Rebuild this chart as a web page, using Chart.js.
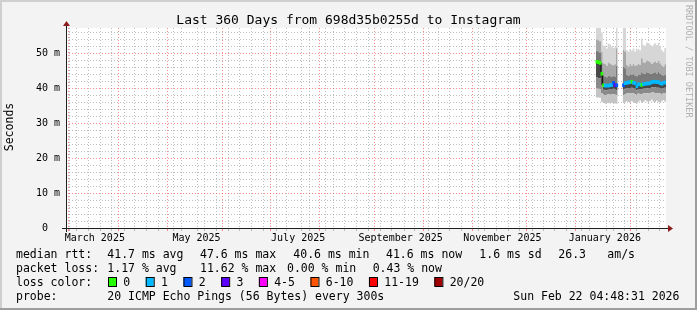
<!DOCTYPE html>
<html>
<head>
<meta charset="utf-8">
<script src="https://cdn.jsdelivr.net/npm/chart.js@4.4.1/dist/chart.umd.min.js"></script>
<style>
  html, body { margin: 0; padding: 0; background: #f3f3f3; }
  canvas { display: block; }
</style>
</head>
<body>
<canvas id="smoke" width="697" height="310"></canvas>
<script>
// 360 day window ending at the graph timestamp
const DAY = 86400000;
const END = Date.UTC(2026, 1, 22, 4, 48, 31);
const START = END - 360 * DAY;
const toDay = t => (t - START) / DAY;

const title = 'Last 360 Days from 698d35b0255d to Instagram';
const xLabels = ['March 2025', 'May 2025', 'July 2025', 'September 2025', 'November 2025', 'January 2026'];
const xLabelMonths = [[2025, 2], [2025, 4], [2025, 6], [2025, 8], [2025, 10], [2026, 0]];
const yTickValues = [0, 10, 20, 30, 40, 50];
const yTickLabels = ['0  ', '10 m', '20 m', '30 m', '40 m', '50 m'];

// one value per day, starting at day 318 of the window (ms)
const firstBin = 318;
const median = [47.6, 47.5, 47.3, 44.2, 40.9, 40.8, 40.8, 40.8, 40.9, 41.0, 41.6, 40.9, 40.9, null, null, null,
  40.9, 41.5, 41.6, 41.7, 41.8, 41.9, 41.6, 41.5, 40.6, 41.2, 41.1, 41.0, 41.2, 41.3, 41.4, 41.4, 41.5, 41.8, 41.9, 41.9, 41.8, 41.8, 41.5, 41.3, 41.6, 41.7];
const lostPings = [0, 0, 0, 0, 0, 1, 1, 1, 1, 1, 2, 3, 2, null, null, null,
  2, 1, 1, 1, 1, 0, 1, 1, 1, 1, 1, 0, 1, 1, 1, 1, 1, 1, 1, 1, 1, 1, 1, 1, 1, 1];
const smokeMax = [58, 58, 58, 56, 52.3, 52.2, 51.4, 52.8, 52.6, 51.9, 51.6, 51.8, 58, null, null, null,
  58, 58, 51.0, 50.5, 51.2, 50.8, 51.4, 50.6, 51.0, 51.3, 50.9, 54.2, 52.4, 52.2, 53.1, 53.0, 52.6, 51.9, 52.5, 52.9, 52.4, 53.1, 52.2, 51.0, 50.4, 51.6];
const smokeP90 = [54.0, 53.8, 53.5, 50.5, 47.2, 47.0, 46.5, 47.4, 47.1, 46.8, 46.6, 46.9, 51.5, null, null, null,
  51.0, 50.6, 46.8, 46.3, 46.9, 46.5, 47.0, 46.4, 46.6, 47.0, 46.7, 48.6, 47.5, 47.3, 48.0, 47.8, 47.5, 47.0, 47.4, 47.7, 47.3, 47.9, 47.2, 46.6, 46.2, 46.9];
const smokeP75 = [50.8, 50.6, 50.3, 47.0, 43.6, 43.4, 43.2, 43.7, 43.5, 43.3, 43.6, 43.4, 46.5, null, null, null,
  46.2, 45.8, 43.8, 43.6, 44.0, 43.8, 44.1, 43.7, 43.5, 43.9, 43.8, 44.6, 44.3, 44.2, 44.6, 44.5, 44.3, 44.2, 44.4, 44.6, 44.3, 44.7, 44.2, 43.9, 43.7, 44.0];
const smokeP25 = [43.2, 43.0, 42.8, 40.8, 39.6, 39.5, 39.5, 39.6, 39.7, 39.6, 39.9, 39.6, 39.5, null, null, null,
  39.6, 39.9, 40.0, 40.1, 40.1, 40.2, 40.0, 39.9, 39.5, 39.8, 39.8, 39.7, 39.9, 40.0, 40.0, 40.1, 40.1, 40.3, 40.4, 40.3, 40.2, 40.2, 40.0, 39.9, 40.1, 40.2];
const smokeP10 = [40.0, 39.9, 39.8, 38.6, 38.2, 38.1, 38.2, 38.3, 38.2, 38.3, 38.4, 38.2, 38.0, null, null, null,
  38.1, 38.3, 38.5, 38.6, 38.5, 38.7, 38.5, 38.4, 38.2, 38.5, 38.4, 38.3, 38.5, 38.6, 38.6, 38.7, 38.6, 38.8, 38.8, 38.7, 38.6, 38.7, 38.5, 38.4, 38.6, 38.7];
const smokeMin = [37.4, 37.4, 37.3, 36.2, 35.8, 35.7, 35.9, 35.8, 35.7, 35.9, 35.8, 35.7, 35.6, null, null, null,
  35.8, 36.0, 36.3, 36.1, 35.9, 36.4, 36.0, 35.8, 35.7, 36.2, 36.5, 35.9, 36.1, 36.6, 36.3, 35.9, 36.4, 36.8, 36.2, 36.0, 36.5, 36.1, 35.9, 36.3, 36.7, 36.2];

const lossLabels = ['0', '1', '2', '3', '4-5', '6-10', '11-19', '20/20'];
const lossUpper = [0, 1, 2, 3, 5, 10, 19, 20];
const lossColors = ['#26ff00', '#00b8ff', '#0059ff', '#5e00ff', '#ff00ff', '#ff5500', '#ff0000', '#a10000'];

const legendRows = [
  [['median rtt:', 16], ['41.7 ms avg', 107.3], ['47.6 ms max', 200], ['40.6 ms min', 293.3], ['41.6 ms now', 386], ['1.6 ms sd', 479.3], ['26.3', 558.3], ['am/s', 607.3]],
  [['packet loss:', 16], ['1.17 % avg', 107.3], ['11.62 % max', 200], ['0.00 % min', 287], ['0.43 % now', 372.7]],
  [['loss color:', 16]],
  [['probe:', 16], ['20 ICMP Echo Pings (56 Bytes) every 300s', 107.3], ['Sun Feb 22 04:48:31 2026', 513.3]]
];

const MONO = '"DejaVu Sans Mono", monospace';
const minorGrid = 'rgba(128,128,128,0.5)';
const majorGrid = 'rgba(255,0,0,0.45)';

// x ticks: sundays (minor), month starts (major), mid-month labels
const xTicks = [];
for (let t = Date.UTC(2025, 2, 2); toDay(t) < 360; t += 7 * DAY) xTicks.push({ value: toDay(t), kind: 'week' });
for (let m = 2; m <= 13; m++) xTicks.push({ value: toDay(Date.UTC(2025, m, 1)), kind: 'month' });
xLabelMonths.forEach(([y, m], i) => {
  const mid = (toDay(Date.UTC(y, m, 1)) + toDay(Date.UTC(y, m + 1, 1))) / 2;
  xTicks.push({ value: mid, kind: 'label', text: xLabels[i] });
});
xTicks.sort((a, b) => a.value - b.value);

function gridX(tick) {
  if (!tick || tick.kind === 'label') return 'rgba(0,0,0,0)';
  return tick.kind === 'month' ? majorGrid : minorGrid;
}

// daily bins as step lines, each run closed at the end of its last day
function steps(vals) {
  const pts = [];
  vals.forEach((v, i) => {
    const d = firstBin + i;
    if (v === null) { pts.push({ x: d, y: null }); return; }
    pts.push({ x: d, y: v });
    const next = vals[i + 1];
    if (next === undefined || next === null) pts.push({ x: d + 1, y: v });
  });
  return pts;
}

const bands = [
  [smokeMin, null],
  [smokeP10, '#c4c4c4'],
  [smokeP25, '#8a8a8a'],
  [median, '#484848'],
  [smokeP75, '#7a7a7a'],
  [smokeP90, '#a8a8a8'],
  [smokeMax, '#d6d6d6']
];
const smokeSets = bands.map(([vals, color], i) => ({
  type: 'line', data: steps(vals), stepped: true, order: 2,
  borderWidth: 0, borderColor: 'rgba(0,0,0,0)', pointRadius: 0,
  fill: i === 0 ? false : '-1', backgroundColor: color || 'rgba(0,0,0,0)'
}));

const lossBars = [], lossBarColors = [];
median.forEach((m, i) => {
  if (m === null) return;
  lossBars.push({ x: firstBin + i + 0.5, y: [m - 0.43, m + 0.43] });
  lossBarColors.push(lossColors[lossUpper.findIndex(u => lostPings[i] <= u)]);
});

const rrdFrame = {
  id: 'rrdFrame',
  beforeDraw(chart) {
    const { ctx, width, height, chartArea: a } = chart;
    ctx.save();
    ctx.fillStyle = '#f3f3f3';
    ctx.fillRect(0, 0, width, height);
    ctx.fillStyle = '#cfcfcf';
    ctx.fillRect(0, 0, width, 2);
    ctx.fillRect(0, 0, 2, height);
    ctx.fillStyle = '#9e9e9e';
    ctx.fillRect(0, height - 2, width, 2);
    ctx.fillRect(width - 2, 0, 2, height);
    ctx.fillStyle = '#ffffff';
    ctx.fillRect(a.left, a.top, a.right - a.left, a.bottom - a.top);
    ctx.restore();
  },
  afterDraw(chart) {
    const { ctx, chartArea: a } = chart;
    ctx.save();
    // axes with arrows
    ctx.fillStyle = '#202020';
    ctx.fillRect(a.left - 4, a.bottom, a.right - a.left + 7, 1);
    ctx.fillRect(a.left, a.top - 3, 1, a.bottom - a.top + 7);
    ctx.fillStyle = '#8b1c1c';
    ctx.beginPath();
    ctx.moveTo(a.right + 2, a.bottom - 3);
    ctx.lineTo(a.right + 7, a.bottom + 0.5);
    ctx.lineTo(a.right + 2, a.bottom + 4);
    ctx.closePath();
    ctx.fill();
    ctx.beginPath();
    ctx.moveTo(a.left - 3, a.top - 2);
    ctx.lineTo(a.left + 0.5, a.top - 7);
    ctx.lineTo(a.left + 4, a.top - 2);
    ctx.closePath();
    ctx.fill();

    // title
    ctx.fillStyle = '#000';
    ctx.font = '13px ' + MONO;
    ctx.textAlign = 'center';
    ctx.textBaseline = 'alphabetic';
    ctx.fillText(title, chart.width / 2, 24);

    // vertical axis title
    ctx.font = '11.5px ' + MONO;
    ctx.save();
    ctx.translate(10, 127);
    ctx.rotate(-Math.PI / 2);
    ctx.textBaseline = 'middle';
    ctx.fillText('Seconds', 0, 0);
    ctx.restore();

    // watermark
    ctx.save();
    ctx.translate(688, 5);
    ctx.rotate(Math.PI / 2);
    ctx.font = '8.5px ' + MONO;
    ctx.fillStyle = '#b0b0b0';
    ctx.textAlign = 'left';
    ctx.textBaseline = 'middle';
    ctx.fillText('RRDTOOL / TOBI OETIKER', 0, 0);
    ctx.restore();

    // legend
    ctx.font = '11.5px ' + MONO;
    ctx.textAlign = 'left';
    ctx.fillStyle = '#000';
    const base = [258, 272, 286, 300];
    legendRows.forEach((row, r) => row.forEach(([txt, x]) => ctx.fillText(txt, x, base[r])));
    let x = 108;
    lossLabels.forEach((lab, i) => {
      ctx.fillStyle = lossColors[i];
      ctx.fillRect(x, 277, 8, 9);
      ctx.strokeStyle = '#000';
      ctx.lineWidth = 1;
      ctx.strokeRect(x + 0.5, 277.5, 8, 9);
      ctx.fillStyle = '#000';
      const lx = x + 15.3;
      ctx.fillText(lab, lx, base[2]);
      x = lx + ctx.measureText(lab).width + 15.5;
    });
    ctx.restore();
  }
};

new Chart(document.getElementById('smoke'), {
  type: 'line',
  data: {
    datasets: [
      { type: 'bar', data: lossBars, backgroundColor: lossBarColors, borderWidth: 0, barThickness: 2, grouped: false, order: 0 },
      { type: 'line', data: steps(median), stepped: true, borderColor: '#000', borderWidth: 1, pointRadius: 0, fill: false, order: 1 },
      ...smokeSets
    ]
  },
  options: {
    responsive: false,
    animation: false,
    devicePixelRatio: 1,
    layout: { padding: { left: 0, right: 31, top: 28, bottom: 0 } },
    plugins: { legend: { display: false }, tooltip: { enabled: false } },
    elements: { point: { radius: 0 }, line: { tension: 0 } },
    scales: {
      x: {
        type: 'linear', min: 0, max: 360, offset: false,
        afterFit: s => { s.height = 82; },
        afterBuildTicks: s => { s.ticks = xTicks.map(t => ({ value: t.value, kind: t.kind, text: t.text })); },
        ticks: {
          autoSkip: false, maxRotation: 0, minRotation: 0, padding: 1, color: '#000',
          font: { family: MONO, size: 10 },
          callback: (v, i, ticks) => ticks[i].kind === 'label' ? ticks[i].text : ''
        },
        grid: { lineWidth: 1, tickLength: 3, color: c => gridX(c.tick), tickColor: c => gridX(c.tick) },
        border: { display: false, dash: [1, 2] }
      },
      y: {
        type: 'linear', min: 0, max: 57.3,
        afterFit: s => { s.width = 66; },
        afterBuildTicks: s => {
          const t = [];
          for (let v = 0; v <= 56; v += 2) t.push({ value: v });
          s.ticks = t;
        },
        ticks: {
          autoSkip: false, padding: 6, color: '#000',
          font: { family: MONO, size: 10 },
          callback: v => { const i = yTickValues.indexOf(v); return i < 0 ? '' : yTickLabels[i]; }
        },
        grid: { lineWidth: 1, drawTicks: false, color: c => (c.tick && c.tick.value % 10 === 0) ? majorGrid : minorGrid },
        border: { display: false, dash: [1, 2] }
      }
    }
  },
  plugins: [rrdFrame]
});
</script>
</body>
</html>
